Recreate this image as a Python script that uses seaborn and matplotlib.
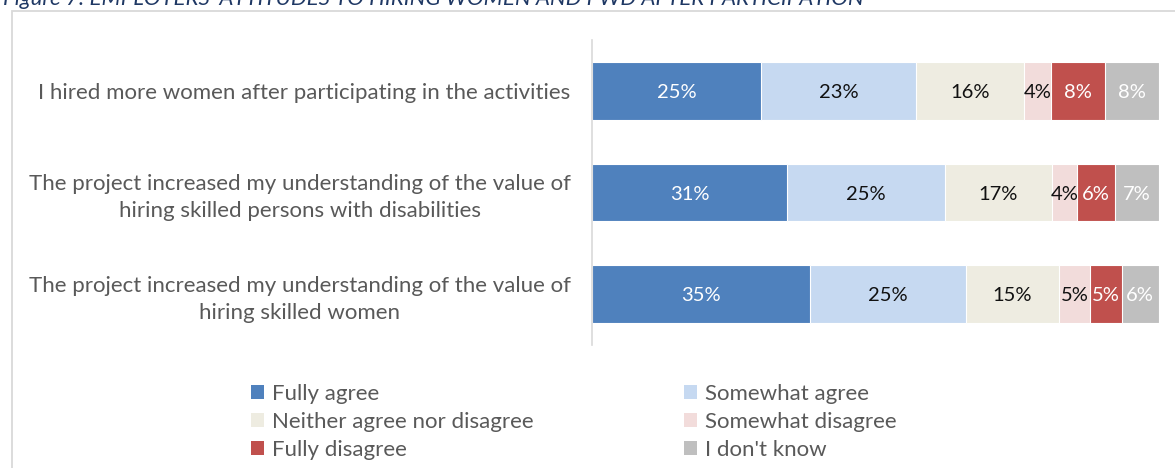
import matplotlib
matplotlib.use("Agg")
import matplotlib.pyplot as plt
from matplotlib.patches import Patch, Rectangle
import numpy as np
import pandas as pd
import seaborn as sns

# Survey statements (top to bottom) and response categories
statements = [
    "I hired more women after participating in the activities",
    "The project increased my understanding of the value of\nhiring skilled persons with disabilities",
    "The project increased my understanding of the value of\nhiring skilled women",
]
responses = [
    "Fully agree",
    "Somewhat agree",
    "Neither agree nor disagree",
    "Somewhat disagree",
    "Fully disagree",
    "I don't know",
]

# Reported percentages per statement
fully_agree = [25, 31, 35]
somewhat_agree = [23, 25, 25]
neither = [16, 17, 15]
somewhat_disagree = [4, 4, 5]
fully_disagree = [8, 6, 5]
dont_know = [8, 7, 6]

colors = ["#4F81BD", "#C6D9F1", "#EEECE1", "#F2DCDB", "#C0504D", "#BFBFBF"]
value_colors = ["white", "#111111", "#111111", "#111111", "white", "white"]

sns.set_theme(style="white")
plt.rcParams["font.family"] = ["Lato", "DejaVu Sans"]

df = pd.DataFrame(
    {
        "statement": statements,
        responses[0]: fully_agree,
        responses[1]: somewhat_agree,
        responses[2]: neither,
        responses[3]: somewhat_disagree,
        responses[4]: fully_disagree,
        responses[5]: dont_know,
    }
)
vals = df[responses].to_numpy(dtype=float)
share = vals / vals.sum(axis=1, keepdims=True) * 100   # 100% stacked
cum = share.cumsum(axis=1)

W, H = 1175, 468
fig = plt.figure(figsize=(W / 100, H / 100), dpi=100)
ax = fig.add_axes([592 / W, 1 - 345 / H, (1159 - 592) / W, 305 / H])

# Stacked bars: draw cumulative totals from the widest layer down
for i in reversed(range(len(responses))):
    sns.barplot(
        x=cum[:, i], y=statements, orient="h", color=colors[i],
        saturation=1, width=0.57, edgecolor="white", linewidth=0.8, ax=ax,
    )

# Value labels centred in each segment
for r in range(len(statements)):
    for i in range(len(responses)):
        ax.text(cum[r, i] - share[r, i] / 2, r, f"{int(vals[r, i])}%",
                ha="center", va="center_baseline", fontsize=14.5, color=value_colors[i])

ax.set_xlim(0, 100)
ax.set_ylim(2.5, -0.5)
ax.set_xlabel("")
ax.set_ylabel("")
ax.set_xticks([])
for s in ["top", "right", "bottom"]:
    ax.spines[s].set_visible(False)
ax.spines["left"].set_color("#d9d9d9")
ax.spines["left"].set_linewidth(1.2)
ax.tick_params(axis="y", length=0, pad=15.5, labelsize=16, labelcolor="#595959")
for t in ax.get_yticklabels():
    t.set_multialignment("center")
    t.set_linespacing(1.4)

# Legend in two columns, filled row by row
order = [0, 2, 4, 1, 3, 5]
handles = [Patch(facecolor=colors[i], edgecolor="none", label=responses[i]) for i in order]
fig.legend(
    handles=handles, ncol=2, loc="upper left", bbox_to_anchor=(251 / W, 1 - 384 / H),
    frameon=False, fontsize=16, labelcolor="#595959", handlelength=0.6,
    handleheight=0.6, handletextpad=0.35, columnspacing=6.75, labelspacing=0.35,
    borderaxespad=0, borderpad=0,
)

# Chart frame and caption
fig.patches.append(Rectangle((12 / W, -0.1), 2, 1 - 11 / H + 0.1, transform=fig.transFigure,
                             fill=False, edgecolor="#d9d9d9", linewidth=1.3))
fig.text(3 / W, 1 - 5 / H, "Figure 7: EMPLOYERS' ATTITUDES TO HIRING WOMEN AND PWD AFTER PARTICIPATION",
         ha="left", va="baseline", style="italic", fontsize=16, color="#1F3864")

fig.savefig("out.png", dpi=100)
